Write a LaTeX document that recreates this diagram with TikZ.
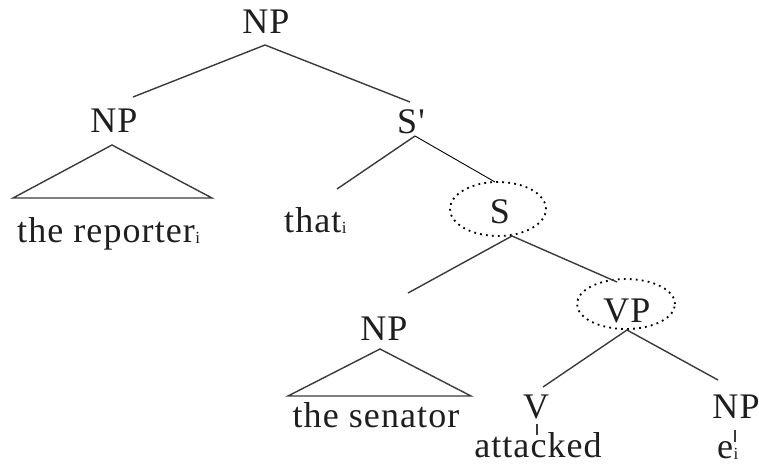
\documentclass[tikz,border=0pt]{standalone}
\usepackage{fontspec}
\usetikzlibrary{shapes.geometric}
\newfontfamily\treefont{Liberation Serif}[LetterSpace=3]
\definecolor{ink}{HTML}{1E1E1E}
\definecolor{branch}{HTML}{3A3A3A}
\newcommand{\idx}{\raisebox{-1.5pt}{\fontsize{17}{17}\selectfont\hspace{0.5pt}i}}
\begin{document}
\begin{tikzpicture}[x=1pt,y=-1pt,
  lab/.style={font=\treefont\fontsize{36}{42}\selectfont, text=ink, inner sep=0pt, anchor=base},
  word/.style={lab, anchor=base west},
  edge/.style={draw=branch, line width=1.4pt},
  thinedge/.style={draw=black, line width=0.9pt},
  ring/.style={draw=black, ellipse, line width=1.8pt, dash pattern=on 1.8pt off 4.2pt, inner sep=0pt}]
\useasboundingbox (0,0) rectangle (759,467);

% category labels
\node[lab] (np0) at (266,33) {NP};
\node[lab] (np1) at (114,132) {NP};
\node[lab] (sbar) at (411,133) {S'};
\node[lab] (s) at (500,223) {S};
\node[lab] (np2) at (384,340) {NP};
\node[lab] (vp) at (627,322) {VP};
\node[lab] (v) at (536,418) {V};
\node[lab] (np3) at (736,418) {NP};

% terminal words
\node[word] (w1) at (17,242) {the reporter\idx};
\node[word] (w2) at (284,232) {that\idx};
\node[lab] (w3) at (376,427) {the senator};
\node[lab] (w4) at (538,457) {attacked};
\node[word] (w5) at (717,458) {e\idx};

% dotted rings round S and VP
\node[ring, minimum width=96pt, minimum height=54pt] (sring) at (498,209) {};
\node[ring, minimum width=98pt, minimum height=50pt] (vpring) at (626,304) {};

% branch points
\coordinate (np0b) at (265,45);
\coordinate (np1t) at (133,97);
\coordinate (sbart) at (410,102);
\coordinate (sbarb) at (415,136);
\coordinate (w2t) at (337,189);
\coordinate (st) at (495,182);
\coordinate (sb) at (512,236);
\coordinate (np2t) at (408,293);
\coordinate (vpt) at (617,282);
\coordinate (vpb) at (627,330);
\coordinate (vt) at (543,387);
\coordinate (np3t) at (718,380);
\coordinate (tri1a) at (112,145);
\coordinate (tri1l) at (13,198);
\coordinate (tri1r) at (212,198);
\coordinate (tri2a) at (380,349);
\coordinate (tri2l) at (288,396);
\coordinate (tri2r) at (471,396);
\coordinate (vtick1) at (537,424);
\coordinate (vtick2) at (537,435);
\coordinate (ntick1) at (735,430);
\coordinate (ntick2) at (735,442);

% branches
\draw[edge] (np1t) -- (np0b) -- (sbart);
\draw[edge] (w2t) -- (sbarb);
\draw[thinedge] (sbarb) -- (st);
\draw[edge] (np2t) -- (sb) -- (vpt);
\draw[edge] (vt) -- (vpb) -- (np3t);
\draw[edge] (tri1a) -- (tri1l) -- (tri1r) -- cycle;
\draw[edge] (tri2a) -- (tri2l) -- (tri2r) -- cycle;
\draw[edge] (vtick1) -- (vtick2);
\draw[edge] (ntick1) -- (ntick2);
\end{tikzpicture}
\end{document}
